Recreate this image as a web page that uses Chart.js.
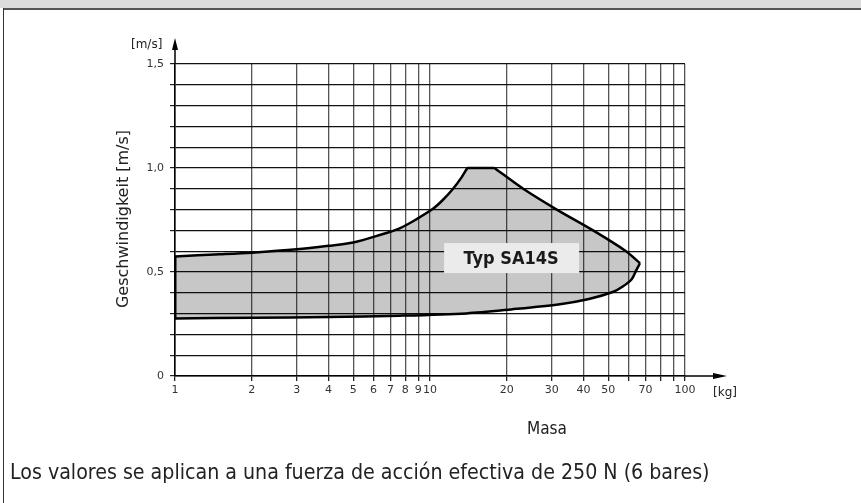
<!DOCTYPE html>
<html>
<head>
<meta charset="utf-8">
<script src="https://cdn.jsdelivr.net/npm/chart.js@4.4.1/dist/chart.umd.min.js"></script>
<style>
  html, body { margin: 0; padding: 0; background: #fff; }
  body { width: 861px; height: 503px; position: relative; overflow: hidden; }
  #topbar { position: absolute; left: 0; top: 0; width: 861px; height: 8px; background: #dcdcdc; }
  #topline { position: absolute; left: 3px; top: 8px; width: 858px; height: 2px; background: #555; }
  #leftline { position: absolute; left: 3px; top: 8px; width: 1px; height: 495px; background: #333; }
  canvas { position: absolute; left: 0; top: 0; }
  .txt { position: absolute; color: #222; white-space: nowrap; }
  #ytitle { font: 16px "DejaVu Sans", sans-serif; left: 122px; top: 219px; transform: translate(-50%, -50%) rotate(-90deg); }
  #yunit { font: 12px "DejaVu Sans", sans-serif; left: 131px; top: 37px; }
  #xunit { font: 12px "DejaVu Sans", sans-serif; left: 713px; top: 385px; }
  #xtitle { font: 17px "Liberation Sans Narrow", "DejaVu Sans Condensed", sans-serif; left: 527px; top: 418px; }
  #note { font: 21.2px "Liberation Sans Narrow", "DejaVu Sans Condensed", sans-serif; left: 10px; top: 459px; }
</style>
</head>
<body>
<div id="topbar"></div>
<div id="topline"></div>
<div id="leftline"></div>
<canvas id="myChart" width="861" height="503"></canvas>
<div class="txt" id="ytitle">Geschwindigkeit [m/s]</div>
<div class="txt" id="yunit">[m/s]</div>
<div class="txt" id="xunit">[kg]</div>
<div class="txt" id="xtitle">Masa</div>
<div class="txt" id="note">Los valores se aplican a una fuerza de acción efectiva de 250 N (6 bares)</div>
<script>
// x axis ticks (kg) and which ones carry a label
let massTicks = [1, 2, 3, 4, 5, 6, 7, 8, 9, 10, 20, 30, 40, 50, 60, 70, 80, 90, 100];
let massLabels = [1, 2, 3, 4, 5, 6, 7, 8, 9, 10, 20, 30, 40, 50, 70, 100];

// upper edge, rising part (mass kg -> speed m/s)
let riseMass = [1, 1.5, 2, 3, 4, 5, 6.36, 7.6, 8.8, 10.3, 11.2, 12.2, 13.3, 14.0];
let riseVel  = [0.575, 0.585, 0.593, 0.609, 0.626, 0.642, 0.678, 0.71, 0.752, 0.805, 0.845, 0.894, 0.955, 1.0];

// upper edge, flat top
let topMass = [14.0, 17.9];
let topVel  = [1.0, 1.0];

// upper edge, falling part down to the tip
let fallMass = [17.9, 23.2, 31.4, 43.6, 58.7, 66.6];
let fallVel  = [1.0, 0.9, 0.8, 0.7, 0.6, 0.542];

// lower edge, from the tip back to 1 kg
let lowerMass = [66.6, 64.5, 61.8, 57, 52.4, 42, 32.3, 20.8, 13.9, 7.6, 4, 2, 1];
let lowerVel  = [0.542, 0.51, 0.465, 0.43, 0.405, 0.37, 0.345, 0.32, 0.301, 0.29, 0.284, 0.28, 0.277];

// left closing edge at 1 kg
let edgeMass = [1, 1];
let edgeVel  = [0.277, 0.575];

let typeLabel = 'Typ SA14S';
let labelMass = 20.8;
let labelVel = 0.567;

function pts(xs, ys) {
    return xs.map((x, i) => ({ x: x, y: ys[i] }));
}

// whole outline, used only for the grey fill
let outline = [].concat(
    pts(riseMass, riseVel),
    pts(fallMass, fallVel),
    pts(lowerMass, lowerVel).slice(1)
);

// label box and axis arrows
const extras = {
    id: 'extras',
    afterDatasetsDraw(chart) {
        const ctx = chart.ctx;
        const cx = chart.scales.x.getPixelForValue(labelMass);
        const cy = chart.scales.y.getPixelForValue(labelVel);
        ctx.save();
        ctx.fillStyle = '#ebebeb';
        ctx.fillRect(cx - 67, cy - 15, 135, 30);
        ctx.fillStyle = '#1a1a1a';
        ctx.font = 'bold 18px "Liberation Sans Narrow", "DejaVu Sans Condensed", sans-serif';
        ctx.textAlign = 'center';
        ctx.textBaseline = 'middle';
        ctx.fillText(typeLabel, cx, cy + 1);
        ctx.restore();
    },
    afterDraw(chart) {
        const ctx = chart.ctx;
        const a = chart.chartArea;
        ctx.save();
        ctx.strokeStyle = '#000';
        ctx.fillStyle = '#000';
        ctx.lineWidth = 1.5;
        ctx.beginPath();
        ctx.moveTo(a.left, a.top);
        ctx.lineTo(a.left, a.top - 16);
        ctx.moveTo(a.right, a.bottom);
        ctx.lineTo(a.right + 30, a.bottom);
        ctx.stroke();
        ctx.beginPath();
        ctx.moveTo(a.left, a.top - 26);
        ctx.lineTo(a.left - 3, a.top - 14);
        ctx.lineTo(a.left + 3, a.top - 14);
        ctx.closePath();
        ctx.fill();
        ctx.beginPath();
        ctx.moveTo(a.right + 42, a.bottom);
        ctx.lineTo(a.right + 28, a.bottom - 3);
        ctx.lineTo(a.right + 28, a.bottom + 3);
        ctx.closePath();
        ctx.fill();
        ctx.restore();
    }
};

function edge(data, tension, width) {
    return {
        data: data,
        showLine: true,
        fill: false,
        borderColor: '#000',
        borderWidth: width,
        pointRadius: 0,
        tension: tension,
    };
}

myChart = new Chart(document.getElementById('myChart'), {
    type: 'scatter',
    data: {
        datasets: [
        {
            data: outline,
            showLine: true,
            fill: 'shape',
            backgroundColor: 'rgba(0,0,0,0.22)',
            borderWidth: 0,
            borderColor: 'rgba(0,0,0,0)',
            pointRadius: 0,
            tension: 0,
        },
        edge(pts(riseMass, riseVel), 0.3, 2.5),
        edge(pts(topMass, topVel), 0, 2.5),
        edge(pts(fallMass, fallVel), 0.3, 2.5),
        edge(pts(lowerMass, lowerVel), 0.3, 2.5),
        edge(pts(edgeMass, edgeVel), 0, 3),
        ]
    },
    options: {
        responsive: false,
        animation: false,
        layout: { padding: { left: 135, top: 64, right: 176, bottom: 97 } },
        plugins: {
            legend: { display: false },
            tooltip: { enabled: false }
        },
        scales: {
            x: {
                type: 'logarithmic',
                min: 1,
                max: 100,
                afterBuildTicks: (s) => { s.ticks = massTicks.map(v => ({ value: v })); },
                afterFit: (s) => { s.height = 30; },
                border: { color: '#000', width: 1.5 },
                grid: {
                    color: (c) => c.tick && c.tick.value === 1 ? '#000' : '#555',
                    lineWidth: 1.3,
                    tickLength: 5,
                    tickColor: '#222'
                },
                ticks: {
                    autoSkip: false,
                    maxRotation: 0,
                    padding: 3,
                    color: '#333',
                    font: { family: 'DejaVu Sans', size: 11 },
                    callback: (v) => massLabels.includes(v) ? String(v) : ''
                }
            },
            y: {
                min: 0,
                max: 1.5,
                afterFit: (s) => { s.width = 40; },
                border: { color: '#000', width: 1.5 },
                grid: {
                    color: '#111',
                    lineWidth: 1.2,
                    tickLength: 5,
                    tickColor: '#222'
                },
                ticks: {
                    stepSize: 0.1,
                    padding: 6,
                    color: '#333',
                    font: { family: 'DejaVu Sans', size: 11 },
                    callback: (v) => {
                        if (Math.abs(v * 2 - Math.round(v * 2)) > 1e-6) return '';
                        if (Math.abs(v) < 1e-6) return '0';
                        return v.toFixed(1).replace('.', ',');
                    }
                }
            }
        }
    },
    plugins: [extras]
});
</script>
</body>
</html>
